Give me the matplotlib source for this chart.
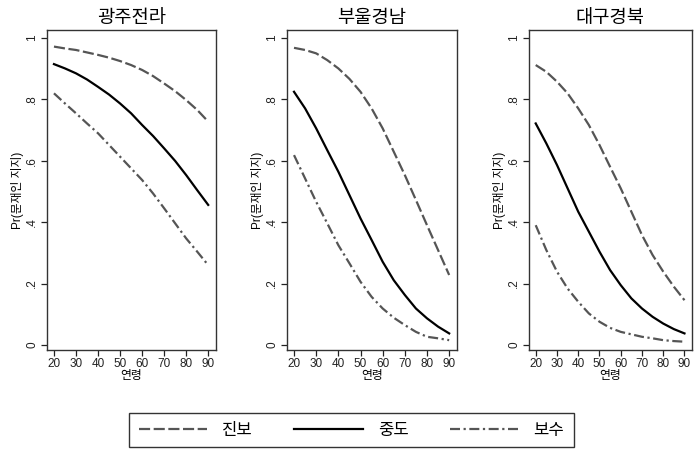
import matplotlib.pyplot as plt

plt.rcParams['font.family'] = ['Liberation Sans', 'Noto Sans CJK KR']

ages = [20, 25, 30, 35, 40, 45, 50, 55, 60, 65, 70, 75, 80, 85, 90]
regions = ['광주전라', '부울경남', '대구경북']
series_names = ['진보', '중도', '보수']

# 광주전라
p1_prog = [0.971, 0.965, 0.96, 0.952, 0.944, 0.935, 0.924, 0.911, 0.895, 0.875, 0.851, 0.826, 0.797, 0.765, 0.727]
p1_mid = [0.914, 0.90, 0.884, 0.864, 0.84, 0.815, 0.786, 0.754, 0.716, 0.68, 0.64, 0.599, 0.553, 0.504, 0.456]
p1_cons = [0.819, 0.786, 0.754, 0.721, 0.689, 0.651, 0.613, 0.575, 0.537, 0.493, 0.445, 0.396, 0.347, 0.304, 0.26]
# 부울경남
p2_prog = [0.967, 0.96, 0.949, 0.927, 0.90, 0.866, 0.824, 0.77, 0.705, 0.629, 0.553, 0.472, 0.39, 0.309, 0.228]
p2_mid = [0.824, 0.77, 0.705, 0.634, 0.564, 0.488, 0.412, 0.342, 0.271, 0.211, 0.163, 0.119, 0.087, 0.06, 0.038]
p2_cons = [0.618, 0.542, 0.466, 0.396, 0.325, 0.266, 0.206, 0.157, 0.119, 0.089, 0.065, 0.043, 0.027, 0.022, 0.016]
# 대구경북
p3_prog = [0.911, 0.889, 0.857, 0.819, 0.77, 0.716, 0.651, 0.58, 0.51, 0.434, 0.358, 0.293, 0.239, 0.19, 0.146]
p3_mid = [0.721, 0.656, 0.586, 0.51, 0.434, 0.369, 0.304, 0.244, 0.195, 0.152, 0.119, 0.092, 0.07, 0.052, 0.038]
p3_cons = [0.39, 0.309, 0.239, 0.184, 0.141, 0.103, 0.076, 0.056, 0.043, 0.035, 0.027, 0.022, 0.016, 0.013, 0.011]

panels = [(p1_prog, p1_mid, p1_cons), (p2_prog, p2_mid, p2_cons), (p3_prog, p3_mid, p3_cons)]
xticks = [20, 30, 40, 50, 60, 70, 80, 90]
yticks = [0, 0.2, 0.4, 0.6, 0.8, 1]
yticklabels = ['0', '.2', '.4', '.6', '.8', '1']

W, H = 697, 449
fig = plt.figure(figsize=(W / 100, H / 100), dpi=100)
boxes = [(46.7, 169), (286.7, 170), (528.7, 163)]

styles = [dict(color='#555555', lw=1.6, dashes=(5, 1.6)),
          dict(color='black', lw=1.6),
          dict(color='#555555', lw=1.6, dashes=(4.5, 1.6, 1, 1.6))]

handles = []
for (left, width), title, data in zip(boxes, regions, panels):
    ax = fig.add_axes([left / W, 1 - 350 / H, width / W, 320 / H])
    handles = []
    for vals, st in zip(data, styles):
        h, = ax.plot(ages, vals, **st)
        handles.append(h)
    ax.set_xlim(16.7, 93.4)
    ax.set_ylim(-0.016, 1.025)
    ax.set_xticks(xticks)
    ax.set_yticks(yticks)
    ax.set_yticklabels(yticklabels, rotation=90, va='center')
    ax.tick_params(axis='both', direction='out', length=4, width=0.9, labelsize=8.5, colors='#222222', pad=2)
    ax.set_title(title, fontsize=13.5, pad=5)
    ax.set_ylabel('Pr(문재인 지지)', fontsize=8.5, labelpad=2)
    ax.set_xlabel('연령', fontsize=8.5, labelpad=0)
    for sp in ax.spines.values():
        sp.set_linewidth(1.0)
        sp.set_color('#333333')

leg = fig.legend(handles, series_names, loc='center', bbox_to_anchor=(351.5 / W, 1 - 430 / H),
                 ncol=3, frameon=True, fancybox=False, fontsize=12, handlelength=4.1,
                 columnspacing=2.5, handletextpad=0.9, borderpad=0.57, borderaxespad=0)
leg.get_frame().set_edgecolor('black')
leg.get_frame().set_linewidth(1.0)

fig.savefig('out.png', dpi=100)
